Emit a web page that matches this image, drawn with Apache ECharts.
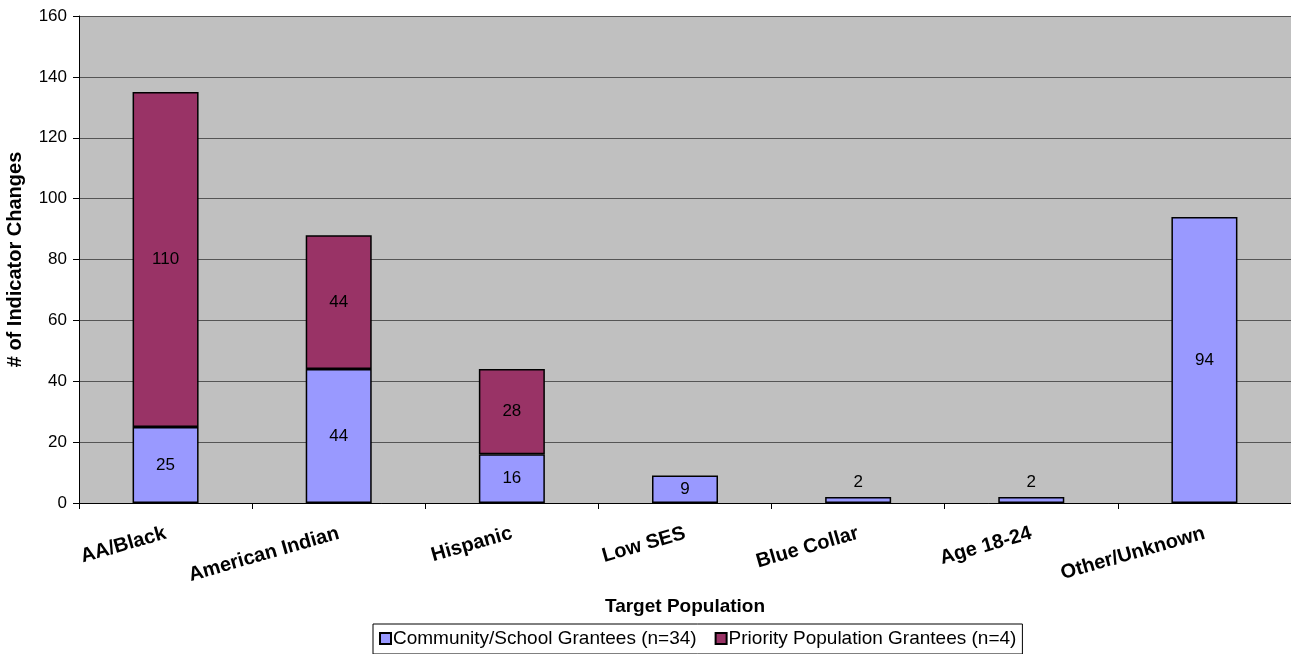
<!DOCTYPE html>
<html>
<head>
<meta charset="utf-8">
<script src="https://cdn.jsdelivr.net/npm/echarts@6/dist/echarts.min.js"></script>
<style>
  html, body { margin: 0; padding: 0; background: #fff; }
  #chart { width: 1291px; height: 654px; }
</style>
</head>
<body>
<div id="chart"></div>
<script>
// Target population groups and indicator change counts per grantee type
const categories = ['AA/Black', 'American Indian', 'Hispanic', 'Low SES', 'Blue Collar', 'Age 18-24', 'Other/Unknown'];
const communitySchool = [25, 44, 16, 9, 2, 2, 94];
const priorityPopulation = [110, 44, 28, null, null, null, null];
const seriesNames = ['Community/School Grantees (n=34)', 'Priority Population Grantees (n=4)'];
const yTicks = { min: 0, max: 160, interval: 20 };

const FONT = 'Arial, "Liberation Sans", sans-serif';
const labelFont = { fontFamily: FONT, fontSize: 17, color: '#000' };

// Very short bars get their label placed above the bar
function withLabels(values) {
  return values.map(v => {
    if (v == null) return v;
    return v < 5
      ? { value: v, label: { position: 'top', distance: 6 } }
      : { value: v };
  });
}

const chart = echarts.init(document.getElementById('chart'), null, { renderer: 'canvas' });
chart.setOption({
  animation: false,
  backgroundColor: '#fff',
  grid: {
    left: 79, top: 16, right: 0, bottom: 151,
    outerBoundsMode: 'none',
    containLabel: false,
    show: true, backgroundColor: '#C0C0C0', borderWidth: 0
  },
  xAxis: {
    type: 'category',
    data: categories,
    name: 'Target Population',
    nameLocation: 'middle',
    nameGap: 94,
    nameMoveOverlap: false,
    nameTextStyle: { fontFamily: FONT, fontSize: 19, fontWeight: 'bold', color: '#000' },
    axisLine: { lineStyle: { color: '#000', width: 1 } },
    axisTick: { show: true, length: 6, lineStyle: { color: '#000' } },
    axisLabel: {
      rotate: 16, margin: 30, interval: 0,
      fontFamily: FONT, fontSize: 20, fontWeight: 'bold', color: '#000'
    }
  },
  yAxis: {
    type: 'value',
    min: yTicks.min, max: yTicks.max, interval: yTicks.interval,
    name: '# of Indicator Changes',
    nameLocation: 'middle',
    nameGap: 54,
    nameMoveOverlap: false,
    nameTextStyle: { fontFamily: FONT, fontSize: 20, fontWeight: 'bold', color: '#000' },
    axisLine: { show: true, lineStyle: { color: '#000', width: 1 } },
    axisTick: { show: true, length: 6, lineStyle: { color: '#000' } },
    axisLabel: { margin: 12, fontFamily: FONT, fontSize: 17, color: '#000' },
    splitLine: { show: true, lineStyle: { color: '#555', width: 1 } }
  },
  legend: {
    left: 373, top: 624,
    data: seriesNames,
    icon: 'rect',
    itemWidth: 11, itemHeight: 11, itemGap: 18,
    borderColor: '#000', borderWidth: 1,
    padding: [5, 6, 6, 6],
    backgroundColor: '#fff',
    textStyle: { fontFamily: FONT, fontSize: 19, color: '#000', padding: [0, 0, 0, -3] }
  },
  series: [
    {
      name: seriesNames[0],
      type: 'bar',
      stack: 'total',
      barWidth: 66,
      data: withLabels(communitySchool),
      itemStyle: { color: '#9999FF', borderColor: '#000', borderWidth: 1.5 },
      label: { show: true, position: 'inside', ...labelFont }
    },
    {
      name: seriesNames[1],
      type: 'bar',
      stack: 'total',
      barWidth: 66,
      data: withLabels(priorityPopulation),
      itemStyle: { color: '#993366', borderColor: '#000', borderWidth: 1.5 },
      label: { show: true, position: 'inside', ...labelFont }
    }
  ]
});
</script>
</body>
</html>
